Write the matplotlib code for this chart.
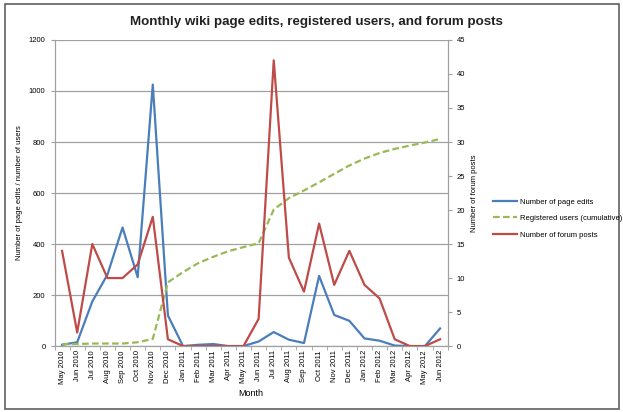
import matplotlib.pyplot as plt
from matplotlib.patches import Rectangle
from matplotlib.ticker import FixedLocator
import numpy as np

plt.rcParams['font.family'] = ['Liberation Sans', 'DejaVu Sans']

months = ['May 2010', 'Jun 2010', 'Jul 2010', 'Aug 2010', 'Sep 2010', 'Oct 2010',
          'Nov 2010', 'Dec 2010', 'Jan 2011', 'Feb 2011', 'Mar 2011', 'Apr 2011',
          'May 2011', 'Jun 2011', 'Jul 2011', 'Aug 2011', 'Sep 2011', 'Oct 2011',
          'Nov 2011', 'Dec 2011', 'Jan 2012', 'Feb 2012', 'Mar 2012', 'Apr 2012',
          'May 2012', 'Jun 2012']

# правки страниц (левая ось)
page_edits = [5, 15, 175, 280, 465, 270, 1025, 120, 0, 5, 8, 0,
              0, 18, 55, 25, 12, 275, 122, 99, 30, 21, 2, 0, 0, 69]
# зарегистрированные пользователи, накопительно (левая ось)
users = [8, 8, 10, 10, 10, 15, 28, 250, 290, 325, 350, 372,
         388, 403, 535, 580, 610, 642, 675, 708, 735, 757, 773, 786, 798, 812]
# сообщения на форуме (правая ось)
forum_posts = [14, 2, 15, 10, 10, 12, 19, 1, 0, 0, 0, 0,
               0, 4, 42, 13, 8, 18, 9, 14, 9, 7, 1, 0, 0, 1]

blue = '#4A7EBB'
green = '#98B954'
red = '#BE4B48'
gray = '#A0A0A0'

fig = plt.figure(figsize=(6.23, 4.12), dpi=100)
fig.patches.append(Rectangle((0.008, 0.007), 0.986, 0.984, transform=fig.transFigure,
                             fill=False, edgecolor='#606060', linewidth=1.2))

ax = fig.add_axes([0.0875, 0.160, 0.631, 0.743])
x = np.arange(len(months))

l1, = ax.plot(x, page_edits, color=blue, lw=1.6, label='Number of page edits')
l2, = ax.plot(x, users, color=green, lw=1.6, ls=(0, (3, 1.5)),
              label='Registered users (cumulative)')
ax.set_ylim(0, 1200)
ax.set_yticks(np.arange(0, 1201, 200))
ax.set_xlim(-0.5, len(months) - 0.5)
ax.set_xticks(x)
ax.set_xticklabels(months, rotation=90)
ax.xaxis.set_minor_locator(FixedLocator(np.arange(-0.5, len(months), 1)))
ax.tick_params(axis='x', which='major', length=0, labelsize=5.5, pad=3)
ax.tick_params(axis='x', which='minor', length=3, color=gray)
ax.tick_params(axis='y', length=3, color=gray, labelsize=5.5)
ax.grid(axis='y', color=gray, lw=0.9)
ax.set_axisbelow(True)
for s in ['left', 'bottom', 'right']:
    ax.spines[s].set_color(gray)
ax.spines['top'].set_visible(False)
ax.set_ylabel('Number of page edits / number of users', fontsize=5.5)
ax.set_xlabel('Month', fontsize=6.5, labelpad=4)

ax2 = ax.twinx()
l3, = ax2.plot(x, forum_posts, color=red, lw=1.6, label='Number of forum posts')
ax2.set_ylim(0, 45)
ax2.set_yticks(np.arange(0, 46, 5))
ax2.tick_params(axis='y', length=3, color=gray, labelsize=5.5)
for s in ['left', 'bottom', 'right']:
    ax2.spines[s].set_color(gray)
ax2.spines['top'].set_visible(False)
ax2.set_ylabel('Number of forum posts', fontsize=5.5)

fig.legend(handles=[l1, l2, l3], loc='center left', bbox_to_anchor=(0.78, 0.47),
           frameon=False, fontsize=5.5, handlelength=3.2, handletextpad=0.3,
           labelspacing=1.2)

fig.suptitle('Monthly wiki page edits, registered users, and forum posts',
             fontsize=9.6, fontweight='bold', color='#222222', x=0.508, y=0.962)

fig.savefig('out.png', dpi=100)
